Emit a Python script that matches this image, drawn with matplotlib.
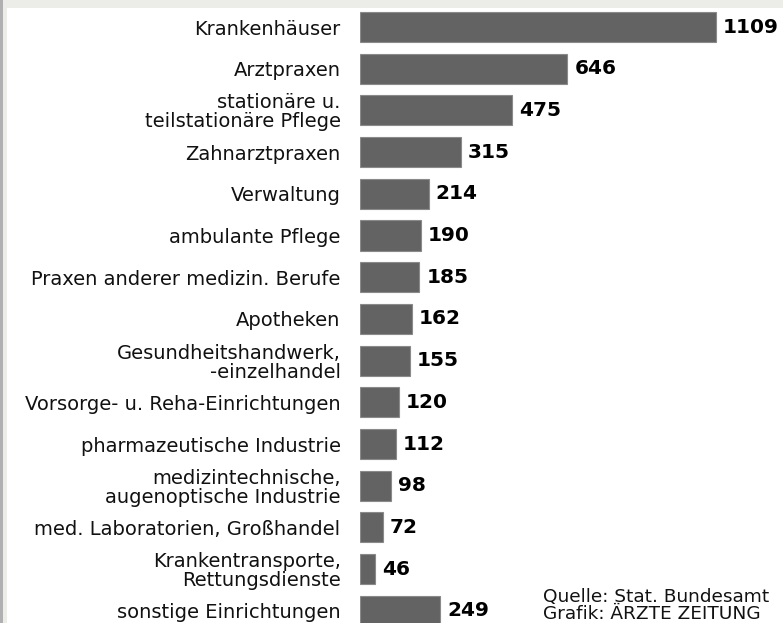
import matplotlib.pyplot as plt
from matplotlib.patches import Rectangle

# Daten
kategorien = ["Krankenhäuser", "Arztpraxen", "stationäre u.\nteilstationäre Pflege",
              "Zahnarztpraxen", "Verwaltung", "ambulante Pflege",
              "Praxen anderer medizin. Berufe", "Apotheken",
              "Gesundheitshandwerk,\n-einzelhandel", "Vorsorge- u. Reha-Einrichtungen",
              "pharmazeutische Industrie", "medizintechnische,\naugenoptische Industrie",
              "med. Laboratorien, Großhandel", "Krankentransporte,\nRettungsdienste",
              "sonstige Einrichtungen"]
werte = [1109, 646, 475, 315, 214, 190, 185, 162, 155, 120, 112, 98, 72, 46, 249]
quelle = "Quelle: Stat. Bundesamt\nGrafik: ÄRZTE ZEITUNG"

W, H = 783, 623
fig = plt.figure(figsize=(W / 100, H / 100), dpi=100)
fig.patch.set_facecolor("white")

# Rahmen oben / links
fig.patches.append(Rectangle((0, 1 - 8 / H), 1, 8 / H, transform=fig.transFigure,
                             facecolor="#ececE8", edgecolor="none", zorder=0))
fig.patches.append(Rectangle((0, 0), 7 / W, 1, transform=fig.transFigure,
                             facecolor="#ececE8", edgecolor="none", zorder=0))
fig.patches.append(Rectangle((0, 0), 3 / W, 1, transform=fig.transFigure,
                             facecolor="#b0b0b0", edgecolor="none", zorder=0))

x0 = 360  # Balkenanfang in Pixel
ax = fig.add_axes([x0 / W, 0, 1 - x0 / W, 1 - 8 / H])
ax.set_facecolor("none")

px_pro_einheit = (716 - 360) / 1109
ax.set_xlim(0, (W - x0) / px_pro_einheit)

abstand = 41.7
y_erster = 27 - 8
ax.set_ylim((H - 8 - y_erster) / abstand, -y_erster / abstand)

pos = list(range(len(werte)))
ax.barh(pos, werte, height=0.72, color="#636363", edgecolor="#8a8a8a", linewidth=0.8)

for p, v in zip(pos, werte):
    ax.text(v + 7 / px_pro_einheit, p, str(v), va="center", ha="left",
            fontsize=14.5, fontweight="heavy", color="#000000")

ax.set_yticks(pos)
ax.set_yticklabels(kategorien, fontsize=14, color="#111111", linespacing=1.0)
ax.tick_params(axis="y", length=0, pad=14)
ax.set_xticks([])
for s in ax.spines.values():
    s.set_visible(False)

fig.text(543 / W, 1 - 588 / H, quelle, ha="left", va="top", fontsize=13.3,
         color="#111111", linespacing=0.95)

fig.savefig("out.png", dpi=100)
